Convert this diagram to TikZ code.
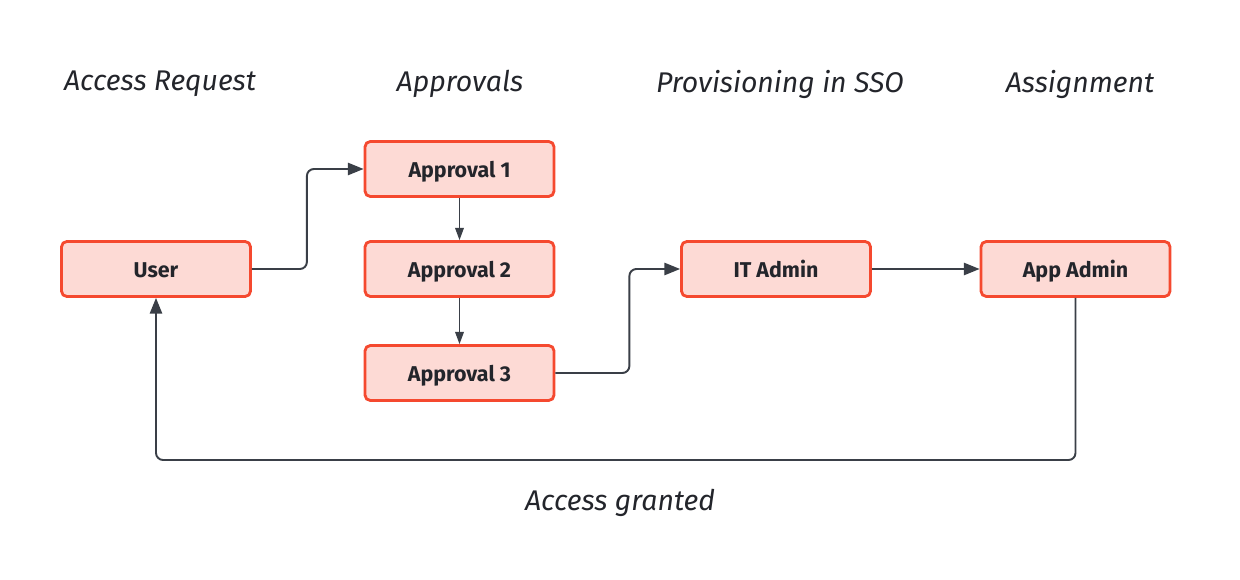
\documentclass[tikz,border=0pt]{standalone}
\usepackage{fontspec}
\setmainfont{Fira Sans}
\usetikzlibrary{arrows.meta}
\definecolor{boxfill}{HTML}{FDDAD5}
\definecolor{boxline}{HTML}{F5492F}
\definecolor{wire}{HTML}{3A3F47}
\definecolor{ink}{HTML}{23252B}
\tikzset{
  stepbox/.style={draw=boxline, fill=boxfill, line width=1.6pt, rounded corners=3pt,
    minimum width=3.78cm, minimum height=1.1cm, text height=1.8ex, text depth=0pt,
    text=ink, font=\fontsize{12.2}{14}\selectfont\bfseries},
  phase/.style={text=ink, font=\fontsize{16.2}{19}\selectfont\itshape},
  flow/.style={draw=wire, line width=1.1pt, rounded corners=4pt, -{Triangle[length=9pt,width=7pt]}},
  flowthin/.style={draw=wire, line width=0.7pt, -{Triangle[length=7pt,width=5pt]}}
}

\begin{document}
\begin{tikzpicture}[x=0.02cm, y=-0.02cm]
\useasboundingbox (0,0) rectangle (1240,580);

%% Phase headings
\node[phase] (hreq) at (160,84) {Access Request};
\node[phase] (happ) at (460,84) {Approvals};
\node[phase] (hsso) at (780,84) {Provisioning in SSO};
\node[phase] (hasg) at (1080,84) {Assignment};

%% Place the boxes
\node[stepbox] (user) at (156,269) {User};
\node[stepbox] (appr1) at (459.5,169) {Approval 1};
\node[stepbox] (appr2) at (459.5,269) {Approval 2};
\node[stepbox] (appr3) at (459.5,373) {Approval 3};
\node[stepbox] (itadmin) at (776,269) {IT Admin};
\node[stepbox] (appadmin) at (1075.5,269) {App Admin};

%% User to first approval
\draw[flow] (user.east) -- ++(55,0) |- (appr1.west);
%% Approval chain
\draw[flowthin] (appr1) -- (appr2);
\draw[flowthin] (appr2) -- (appr3);
%% Last approval to IT admin
\draw[flow] (appr3.east) -- ++(74,0) |- (itadmin.west);
%% IT admin to app admin
\draw[flow] (itadmin) -- (appadmin);

%% Way back to the user
\coordinate (back) at (0,460);
\draw[flow] (appadmin.south) |- (back -| user.south) -- (user.south);
\node[phase] (granted) at (620,503) {Access granted};

\end{tikzpicture}
\end{document}
